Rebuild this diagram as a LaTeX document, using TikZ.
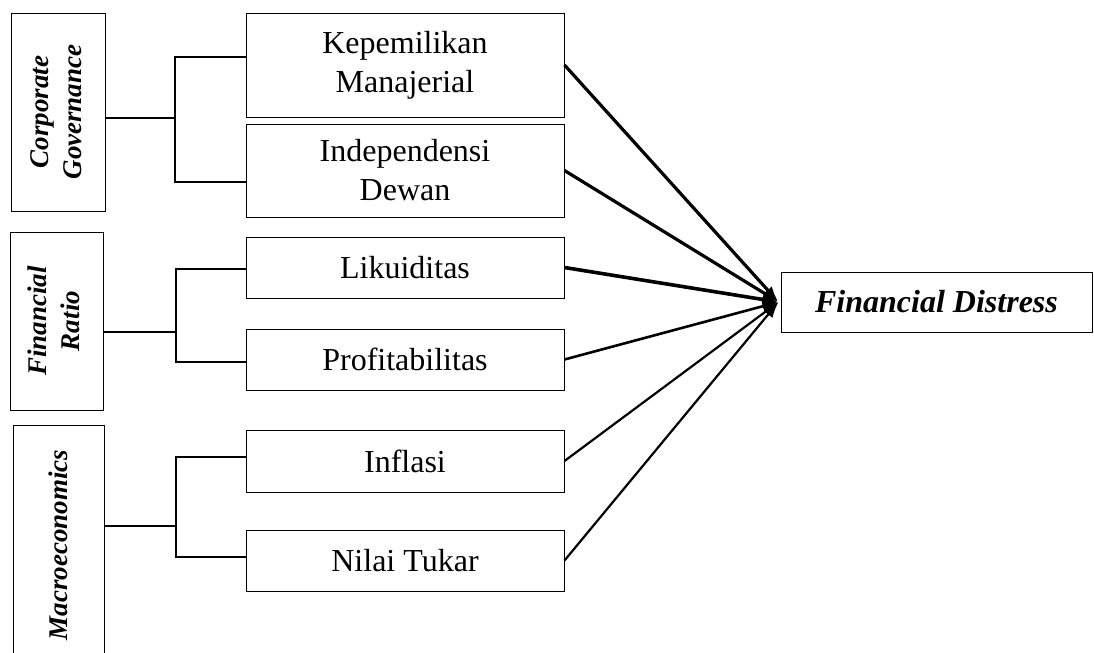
\documentclass[tikz,border=0pt]{standalone}
\usepackage{fontspec}
\setmainfont{Liberation Serif}
\usetikzlibrary{positioning,arrows.meta}

\begin{document}
\begin{tikzpicture}[x=0.5pt, y=-0.5pt,
    grp/.style={draw, line width=0.5pt, inner sep=0pt, font=\fontsize{13.5}{16.5}\selectfont\bfseries\itshape},
    var/.style={draw, line width=0.5pt, minimum width=159pt, align=center, inner sep=0pt, font=\fontsize{16}{19.5}\selectfont},
    conn/.style={line width=1pt},
    arr/.style={-{Latex[length=8pt,width=5.5pt]}}]

    \useasboundingbox (0,0) rectangle (1094,653);
    \clip (0,0) rectangle (1094,653);

    % Left column: the three groups
    \node[grp, minimum width=47pt, minimum height=99pt] (cg) at (58,112)
        {\rotatebox{90}{\begin{tabular}{@{}c@{}}Corporate\\Governance\end{tabular}}};
    \node[grp, minimum width=46.5pt, minimum height=89pt] (fr) at (56.5,321)
        {\rotatebox{90}{\begin{tabular}{@{}c@{}}Financial\\Ratio\end{tabular}}};
    \node[grp, minimum width=45.5pt, minimum height=120pt] (ma) at (58.5,545)
        {\rotatebox{90}{Macroeconomics}};

    % Middle column: the variables
    \node[var, minimum height=52pt] (kep) at (405,65) {Kepemilikan\\Manajerial};
    \node[var, minimum height=46.5pt] (ind) at (405,170.5) {Independensi\\Dewan};
    \node[var, minimum height=30.5pt] (lik) at (405,267.5) {Likuiditas};
    \node[var, minimum height=30.5pt] (pro) at (405,359.5) {Profitabilitas};
    \node[var, minimum height=31pt] (inf) at (405,461) {Inflasi};
    \node[var, minimum height=30.5pt] (nil) at (405,560.5) {Nilai Tukar};

    % Right: dependent variable
    \node[draw, line width=0.5pt, minimum width=155.5pt, minimum height=30pt,
        font=\fontsize{16}{19.5}\selectfont\bfseries\itshape] (fd) at (936.5,302) {Financial Distress};

    % Brackets from groups to variables
    \coordinate (cgj) at (175,118);
    \coordinate (frj) at (176,332);
    \coordinate (maj) at (176,526);

    \draw[conn] ([yshift=-3pt]cg.east) -- (cgj);
    \draw[conn] ([yshift=4pt]kep.west) -| (cgj) |- ([yshift=-5.75pt]ind.west);

    \draw[conn] ([yshift=-5.5pt]fr.east) -- (frj);
    \draw[conn] ([yshift=-0.75pt]lik.west) -| (frj) |- ([yshift=-1.25pt]pro.west);

    \draw[conn] ([yshift=9.5pt]ma.east) -- (maj);
    \draw[conn] ([yshift=2pt]inf.west) -| (maj) |- ([yshift=1.75pt]nil.west);

    % Arrows to Financial Distress
    \foreach \v/\w in {kep/1.6, ind/1.6, lik/1.8, pro/1.3, inf/1.1, nil/1.1}
        \draw[arr, line width=\w pt] (\v.east) -- ([xshift=-1pt]fd.west);

\end{tikzpicture}
\end{document}
